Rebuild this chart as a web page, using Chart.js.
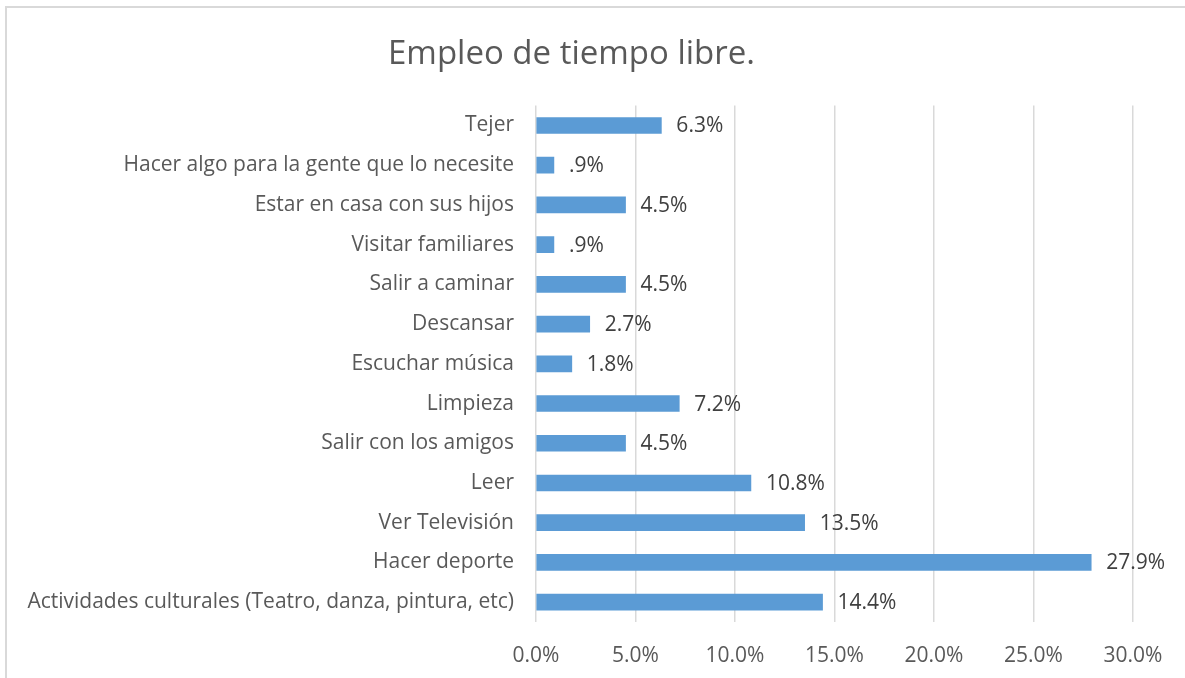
<!DOCTYPE html>
<html>
<head>
<meta charset="utf-8">
<script src="https://cdn.jsdelivr.net/npm/chart.js@4.4.1/dist/chart.umd.min.js"></script>
<style>
  body { margin: 0; background: #fff; }
  #frame { position: absolute; left: 5px; top: 6px; width: 1200px; height: 700px; border: 2px solid #d9d9d9; box-sizing: border-box; }
  #wrap { position: absolute; left: 0; top: 0; width: 1185px; height: 678px; }
</style>
</head>
<body>
<div id="frame"></div>
<div id="wrap"><canvas id="chart"></canvas></div>
<script>
// Datos
const categorias = [
    'Tejer',
    'Hacer algo para la gente que lo necesite',
    'Estar en casa con sus hijos',
    'Visitar familiares',
    'Salir a caminar',
    'Descansar',
    'Escuchar música',
    'Limpieza',
    'Salir con los amigos',
    'Leer',
    'Ver Televisión',
    'Hacer deporte',
    'Actividades culturales (Teatro, danza, pintura, etc)'
];
const porcentajes = [6.3, 0.9, 4.5, 0.9, 4.5, 2.7, 1.8, 7.2, 4.5, 10.8, 13.5, 27.9, 14.4];
const ticksX = [0, 5, 10, 15, 20, 25, 30];

const fuente = "'Open Sans', sans-serif";
const gris = '#595959';

function formato(v) {
    let s = v.toFixed(1);
    if (s.startsWith('0.') && v !== 0) s = s.slice(1);
    return s + '%';
}

// etiquetas de datos al final de cada barra
const etiquetas = {
    id: 'etiquetas',
    afterDatasetsDraw(chart) {
        const ctx = chart.ctx;
        const meta = chart.getDatasetMeta(0);
        ctx.save();
        ctx.font = '21px ' + fuente;
        ctx.fillStyle = '#404040';
        ctx.textBaseline = 'middle';
        ctx.textAlign = 'left';
        meta.data.forEach((bar, i) => {
            ctx.fillText(formato(porcentajes[i]), bar.x + 15, bar.y + 1);
        });
        ctx.restore();
    }
};

new Chart(document.getElementById('chart'), {
    type: 'bar',
    data: {
        labels: categorias,
        datasets: [{
            data: porcentajes,
            backgroundColor: '#5b9bd5',
            barThickness: 16
        }]
    },
    options: {
        indexAxis: 'y',
        responsive: true,
        maintainAspectRatio: false,
        animation: false,
        layout: { padding: { left: 10, right: 52, top: 0, bottom: 0 } },
        plugins: {
            legend: { display: false },
            tooltip: { enabled: false },
            title: {
                display: true,
                text: 'Empleo de tiempo libre.',
                color: gris,
                font: { family: fuente, size: 33, weight: 'normal' },
                padding: { top: 35, bottom: 31 }
            }
        },
        scales: {
            x: {
                min: 0,
                max: 30,
                afterBuildTicks: (scale) => { scale.ticks = ticksX.map(v => ({ value: v })); },
                afterFit: (scale) => { scale.height = 56; },
                grid: { color: '#d9d9d9', lineWidth: 1.5, drawTicks: false },
                border: { display: false },
                ticks: {
                    padding: 21,
                    color: gris,
                    font: { family: fuente, size: 21 },
                    callback: (v) => v.toFixed(1) + '%'
                }
            },
            y: {
                afterFit: (scale) => { scale.width = 526; },
                grid: { display: false, drawTicks: false },
                border: { display: false },
                ticks: {
                    padding: 22,
                    color: gris,
                    font: { family: fuente, size: 21 }
                }
            }
        }
    },
    plugins: [etiquetas]
});
</script>
</body>
</html>
